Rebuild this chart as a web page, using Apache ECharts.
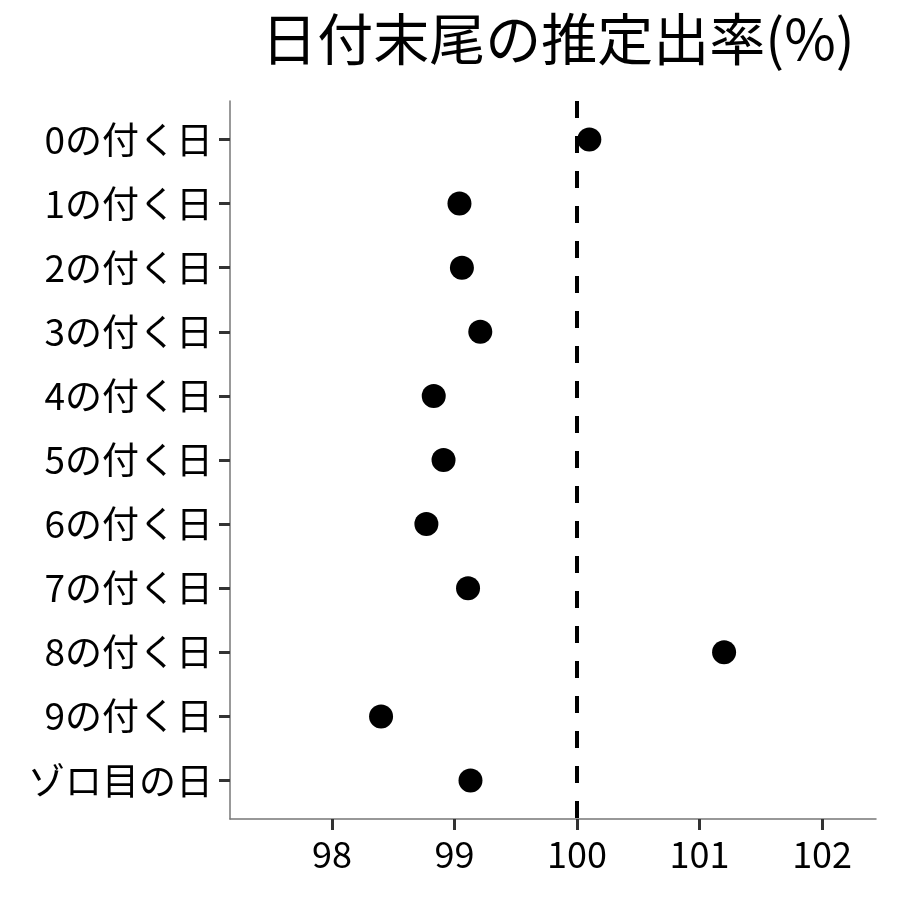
<!DOCTYPE html>
<html>
<head>
<meta charset="utf-8">
<script src="https://cdn.jsdelivr.net/npm/echarts@6/dist/echarts.min.js"></script>
<style>html,body{margin:0;padding:0;background:#fff}#c{width:900px;height:900px}</style>
</head>
<body>
<div id="c"></div>
<script>
const categories = ["0の付く日","1の付く日","2の付く日","3の付く日","4の付く日","5の付く日","6の付く日","7の付く日","8の付く日","9の付く日","ゾロ目の日"];
const rates = [100.10, 99.04, 99.06, 99.21, 98.83, 98.91, 98.77, 99.11, 101.20, 98.40, 99.13];
const xTicks = [98, 99, 100, 101, 102];
const refValue = 100;

const FONT = '"Noto Sans CJK JP", "Noto Sans", sans-serif';
const chart = echarts.init(document.getElementById('c'), null, {renderer: 'canvas'});
const yPos = categories.map((_, i) => i + 1);
chart.setOption({
  backgroundColor: '#fff',
  animation: false,
  title: {
    text: '日付末尾の推定出率(%)',
    left: 553, top: 6, textAlign: 'center',
    textStyle: {fontFamily: FONT, fontSize: 56, fontWeight: 'normal', color: '#000'}
  },
  grid: {left: 230, right: 24, top: 101, bottom: 81},
  xAxis: {
    type: 'value', min: 97.167, max: 102.44,
    axisLine: {show: true, lineStyle: {color: '#777', width: 1.5}},
    axisTick: {show: true, length: 11, customValues: xTicks, lineStyle: {color: '#333', width: 3}},
    axisLabel: {customValues: xTicks, margin: 17, fontFamily: FONT, fontSize: 36, color: '#000'},
    splitLine: {show: false}
  },
  yAxis: {
    type: 'value', min: 0.4, max: 11.6, inverse: true,
    axisLine: {show: true, lineStyle: {color: '#777', width: 1.5}},
    axisTick: {show: true, length: 11, customValues: yPos, lineStyle: {color: '#333', width: 3}},
    axisLabel: {customValues: yPos, margin: 17, fontFamily: FONT, fontSize: 37, color: '#000',
      formatter: v => categories[Math.round(v) - 1] || ''},
    splitLine: {show: false}
  },
  series: [{
    type: 'scatter',
    data: rates.map((r, i) => [r, i + 1]),
    symbol: 'circle', symbolSize: 24,
    itemStyle: {color: '#000', opacity: 1},
    markLine: {
      silent: true, symbol: 'none', label: {show: false},
      lineStyle: {color: '#000', width: 4, type: [17, 18]},
      data: [{xAxis: refValue}]
    },
    z: 3
  }]
});
</script>
</body>
</html>
